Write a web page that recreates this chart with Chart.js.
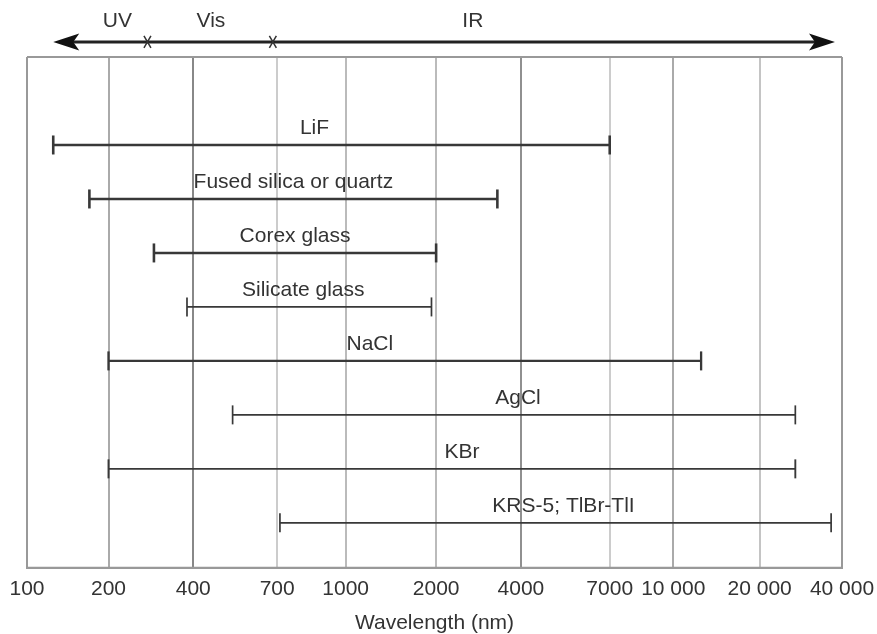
<!DOCTYPE html>
<html>
<head>
<meta charset="utf-8">
<script src="https://cdn.jsdelivr.net/npm/chart.js@4.4.1/dist/chart.umd.min.js"></script>
<style>
  body { margin: 0; background: #fff; }
  #wrap { width: 877px; height: 634px; }
</style>
</head>
<body>
<div id="wrap"><canvas id="rangeChart"></canvas></div>
<script>
// DATOS
const materials = ["LiF", "Fused silica or quartz", "Corex glass", "Silicate glass", "NaCl", "AgCl", "KBr", "KRS-5; TlBr-TlI"];
const rangeStart = [125, 170, 290, 380, 200, 520, 200, 710];     // nm
const rangeEnd = [7000, 3300, 2000, 1930, 12500, 27000, 27000, 36500]; // nm

const tickValues = [100, 200, 400, 700, 1000, 2000, 4000, 7000, 10000, 20000, 40000];
const tickLabels = ["100", "200", "400", "700", "1000", "2000", "4000", "7000", "10 000", "20 000", "40 000"];

const regions = ["UV", "Vis", "IR"];
const regionLabelAt = [215, 450, 2700];   // nm
const regionBounds = [275, 680];          // nm
const arrowEnds = [125, 37700];           // nm

// ESTILO
const tickPos = [0, 1.0, 2.04, 3.07, 3.91, 5.02, 6.06, 7.15, 7.93, 8.99, 10];
const gridColors = ["#999", "#aaa", "#888", "#ccc", "#bbb", "#bbb", "#909090", "#ccc", "#aaa", "#c4c4c4", "#999"];
const barWidths = [2.6, 2.6, 2.6, 1.7, 2.3, 1.7, 1.9, 1.7];
const labelDx = [-17, 0, 0, -6, -35, 4, 10, 8];
const ink = "#333";

// wavelength -> axis position (log inside each tick interval)
function toAxis(wl) {
  for (let k = 0; k < tickValues.length - 1; k++) {
    if (wl <= tickValues[k + 1] || k === tickValues.length - 2) {
      const f = Math.log(wl / tickValues[k]) / Math.log(tickValues[k + 1] / tickValues[k]);
      return tickPos[k] + f * (tickPos[k + 1] - tickPos[k]);
    }
  }
}

Chart.defaults.font.family = "'Liberation Sans', Arial, sans-serif";
Chart.defaults.font.size = 21;
Chart.defaults.color = ink;

const datasets = materials.map((m, i) => ({
  label: m,
  data: [{ x: toAxis(rangeStart[i]), y: i }, { x: toAxis(rangeEnd[i]), y: i }],
  showLine: true,
  borderColor: "#383838",
  borderWidth: barWidths[i],
  pointStyle: "line",
  rotation: 90,
  pointRadius: 9.5,
  pointBorderWidth: barWidths[i],
  pointBorderColor: "#383838",
  clip: false
}));

// MARCO, FLECHA Y ETIQUETAS
const decor = {
  id: "decor",
  beforeDatasetsDraw(chart) {
    const { ctx, chartArea: a } = chart;
    ctx.save();
    ctx.strokeStyle = "#999";
    ctx.lineWidth = 2;
    ctx.beginPath();
    ctx.moveTo(a.left, a.top);
    ctx.lineTo(a.right, a.top);
    ctx.moveTo(a.left, a.bottom);
    ctx.lineTo(a.right, a.bottom);
    ctx.stroke();
    ctx.restore();
  },
  afterDraw(chart) {
    const { ctx } = chart;
    const xs = chart.scales.x, ys = chart.scales.y;
    ctx.save();

    // bar labels
    ctx.fillStyle = ink;
    ctx.textAlign = "center";
    ctx.textBaseline = "alphabetic";
    materials.forEach((m, i) => {
      const x0 = xs.getPixelForValue(toAxis(rangeStart[i]));
      const x1 = xs.getPixelForValue(toAxis(rangeEnd[i]));
      ctx.fillText(m, (x0 + x1) / 2 + labelDx[i], ys.getPixelForValue(i) - 11);
    });

    // spectrum arrow
    const ay = ys.getPixelForValue(-1.908);
    const ax0 = xs.getPixelForValue(toAxis(arrowEnds[0]));
    const ax1 = xs.getPixelForValue(toAxis(arrowEnds[1]));
    ctx.strokeStyle = "#222";
    ctx.fillStyle = "#111";
    ctx.lineWidth = 3;
    ctx.beginPath();
    ctx.moveTo(ax0 + 10, ay);
    ctx.lineTo(ax1 - 10, ay);
    ctx.stroke();
    [[ax0, 1], [ax1, -1]].forEach(([x, d]) => {
      ctx.beginPath();
      ctx.moveTo(x, ay);
      ctx.lineTo(x + d * 26, ay - 8.5);
      ctx.lineTo(x + d * 20, ay);
      ctx.lineTo(x + d * 26, ay + 8.5);
      ctx.closePath();
      ctx.fill();
    });

    // boundary crosses
    ctx.strokeStyle = "#333";
    ctx.lineWidth = 1.5;
    regionBounds.forEach(wl => {
      const x = xs.getPixelForValue(toAxis(wl));
      ctx.beginPath();
      ctx.moveTo(x - 3.5, ay - 6);
      ctx.lineTo(x + 3.5, ay + 6);
      ctx.moveTo(x + 3.5, ay - 6);
      ctx.lineTo(x - 3.5, ay + 6);
      ctx.stroke();
    });

    // region names
    ctx.fillStyle = ink;
    ctx.textBaseline = "middle";
    regions.forEach((r, i) => {
      ctx.fillText(r, xs.getPixelForValue(toAxis(regionLabelAt[i])), ys.getPixelForValue(-2.3));
    });
    ctx.restore();
  }
};

new Chart(document.getElementById("rangeChart"), {
  type: "scatter",
  data: { datasets },
  plugins: [decor],
  options: {
    responsive: true,
    maintainAspectRatio: false,
    animation: false,
    layout: { padding: { left: 27, right: 35, top: 57, bottom: 0 } },
    plugins: { legend: { display: false }, tooltip: { enabled: false } },
    scales: {
      x: {
        type: "linear",
        min: 0,
        max: 10,
        afterBuildTicks: s => { s.ticks = tickPos.map(v => ({ value: v })); },
        afterFit: s => { s.paddingLeft = 0; s.paddingRight = 0; },
        ticks: {
          autoSkip: false,
          maxRotation: 0,
          padding: 9,
          color: ink,
          callback: (v, i) => tickLabels[i]
        },
        grid: {
          drawTicks: false,
          color: c => gridColors[c.index],
          lineWidth: 2
        },
        border: { display: true, color: "#999", width: 2 },
        title: {
          display: true,
          text: "Wavelength (nm)",
          color: ink,
          font: { size: 21, lineHeight: 1.0 },
          padding: { top: 2, bottom: 0 }
        }
      },
      y: {
        type: "linear",
        reverse: true,
        min: -1.63,
        max: 7.833,
        display: false
      }
    }
  }
});
</script>
</body>
</html>
